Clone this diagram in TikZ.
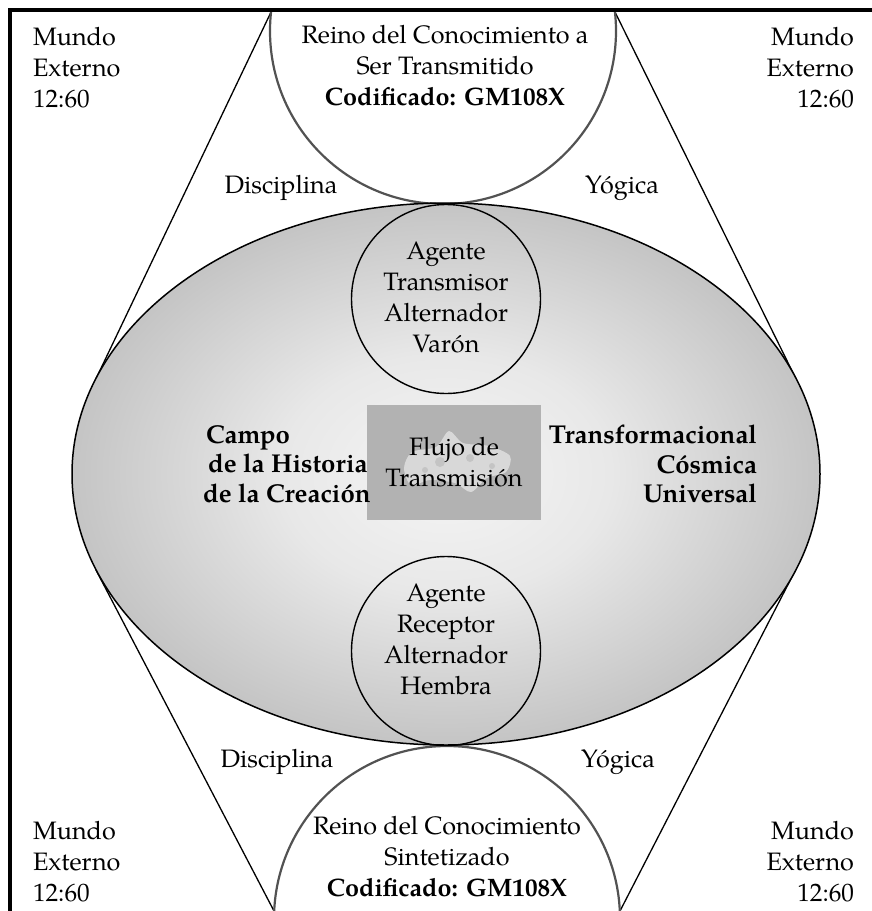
\documentclass[tikz,border=0pt]{standalone}
\usepackage{fontspec}
\setmainfont{TeX Gyre Pagella}
\usetikzlibrary{shapes.geometric}
\pgfdeclareradialshading{ellsh}{\pgfpoint{0bp}{0bp}}{color(0bp)=(black!4); color(11bp)=(black!9); color(25bp)=(black!23); color(50bp)=(black!23)}
\begin{document}
\begin{tikzpicture}[x=1pt,y=-1pt,
  base/.style={inner sep=0pt, outer sep=0pt},
  txt/.style={base, font=\fontsize{25.2}{31}\selectfont},
  btxt/.style={base, font=\fontsize{25.8}{29.5}\selectfont\bfseries},
  bigcirc/.style={base, circle, draw=black!68, line width=2.2pt, fill=white, minimum size=346pt},
  agent/.style={base, circle, draw=black, line width=1.4pt, minimum size=189pt},
  trline/.style={line width=1.3pt, line cap=round},
  fieldell/.style={base, ellipse, draw=black, line width=1.5pt, shade, shading=ellsh, minimum width=748pt, minimum height=542pt},
  flowbox/.style={base, rectangle, fill=black!30, minimum width=174pt, minimum height=115pt},
  framel/.style={line width=4.6pt, line cap=rect}
]
\useasboundingbox[fill=white] (0,0) rectangle (872,911);
% tangent lines
\coordinate (ulA) at (272,10);  \coordinate (ulB) at (93,385);
\coordinate (urA) at (614,10);  \coordinate (urB) at (798,383);
\coordinate (llA) at (274,911); \coordinate (llB) at (96,570);
\coordinate (lrA) at (620,911); \coordinate (lrB) at (796,569);
\draw[trline] (ulA) -- (ulB);
\draw[trline] (urA) -- (urB);
\draw[trline] (llA) -- (llB);
\draw[trline] (lrA) -- (lrB);
% big circles
\begin{scope}
  \clip (0,10) rectangle (872,911);
  \node[bigcirc] (topc) at (443,31) {};
  \node[bigcirc] (botc) at (447,919) {};
\end{scope}
% field ellipse
\node[fieldell] (field) at (446,474) {};
% agents
\node[agent] (agtop) at (446,299) {};
\node[agent] (agbot) at (446,651) {};
% central box
\node[flowbox] (flow) at (454,462.5) {};
\fill[white, opacity=0.5] plot[smooth cycle] coordinates {(404,468) (412,452) (436,447) (449,431) (463,443) (489,446) (510,456) (506,472) (487,478) (471,492) (455,483) (430,480) (411,485)};
\fill[black!30, opacity=0.5] (440,462) circle (5) (470,458) circle (4) (425,470) circle (3) (492,466) circle (3);
% frame
\draw[framel] (10,920) -- (10,10) -- (880,10);
% texts
\node[txt, align=left, anchor=west] (mTL) at (33,68) {Mundo\\Externo\\12:60};
\node[txt, align=right, anchor=east] (mTR) at (854,68) {Mundo\\Externo\\12:60};
\node[txt, align=left, anchor=west] (mBL) at (33,862) {Mundo\\Externo\\12:60};
\node[txt, align=right, anchor=east] (mBR) at (854,862) {Mundo\\Externo\\12:60};
\node[txt, align=center] (topt) at (445,66) {Reino del Conocimiento a\\Ser Transmitido\\\textbf{Codificado: GM108X}};
\node[txt, align=center] (bott) at (447,857) {Reino del Conocimiento\\Sintetizado\\\textbf{Codificado: GM108X}};
\node[txt] (d1) at (281,188) {Disciplina};
\node[txt] (y1) at (622,188) {Yógica};
\node[txt] (d2) at (277,762) {Disciplina};
\node[txt] (y2) at (618,762) {Yógica};
\node[txt, align=center] (agTt) at (446,297) {Agente\\Transmisor\\Alternador\\Varón};
\node[txt, align=center] (agBt) at (446,639) {Agente\\Receptor\\Alternador\\Hembra};
\node[txt, align=center] (flujo) at (454,462) {Flujo de\\Transmisión};
\node[btxt, align=left, anchor=west] (campo) at (203,464) {\hspace{3pt}Campo\\\hspace{5pt}de la Historia\\de la Creación};
\node[btxt, align=right, anchor=east] (trans) at (757,464) {Transformacional\\Cósmica\hspace{2pt}\\Universal};
\end{tikzpicture}
\end{document}
